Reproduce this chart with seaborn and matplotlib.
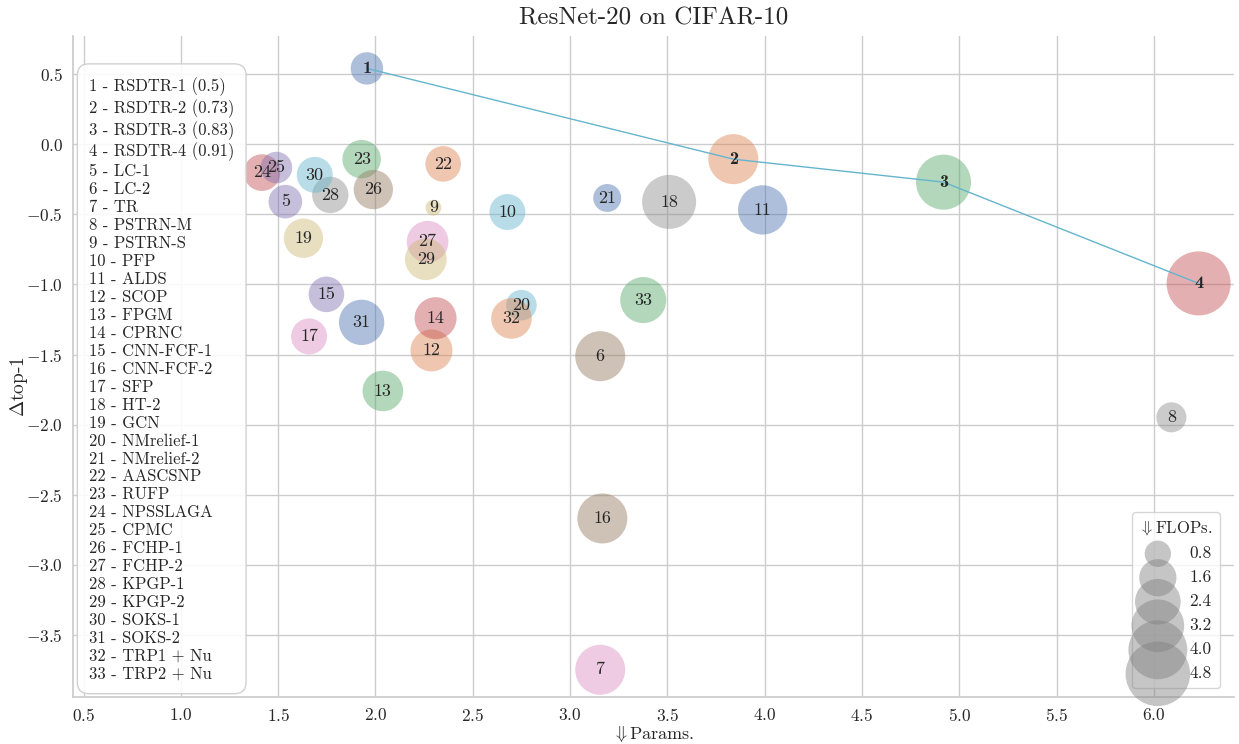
import numpy as np
import pandas as pd
import matplotlib
matplotlib.use('Agg')
import matplotlib.pyplot as plt
import seaborn as sns

# methods compared (index = label drawn in bubble)
methods = ['RSDTR-1 (0.5)', 'RSDTR-2 (0.73)', 'RSDTR-3 (0.83)', 'RSDTR-4 (0.91)',
           'LC-1', 'LC-2', 'TR', 'PSTRN-M', 'PSTRN-S', 'PFP', 'ALDS', 'SCOP', 'FPGM',
           'CPRNC', 'CNN-FCF-1', 'CNN-FCF-2', 'SFP', 'HT-2', 'GCN', 'NMrelief-1',
           'NMrelief-2', 'AASCSNP', 'RUFP', 'NPSSLAGA', 'CPMC', 'FCHP-1', 'FCHP-2',
           'KPGP-1', 'KPGP-2', 'SOKS-1', 'SOKS-2', 'TRP1 + Nu', 'TRP2 + Nu']

params = [1.956, 3.839, 4.919, 6.230, 1.537, 3.155, 3.155, 6.090, 2.298, 2.678,
          3.990, 2.288, 2.038, 2.309, 1.748, 3.166, 1.659, 3.509, 1.630, 2.750,
          3.191, 2.348, 1.929, 1.417, 1.491, 1.989, 2.268, 1.768, 2.259, 1.688,
          1.929, 2.699, 3.376]

dtop1 = [0.54, -0.107, -0.271, -0.993, -0.410, -1.512, -3.748, -1.948, -0.453, -0.484,
         -0.469, -1.471, -1.760, -1.241, -1.071, -2.669, -1.371, -0.412, -0.671, -1.148,
         -0.384, -0.141, -0.107, -0.203, -0.167, -0.324, -0.696, -0.362, -0.821, -0.219,
         -1.271, -1.243, -1.112]

flops = [1.21, 2.88, 3.49, 4.72, 1.30, 2.88, 2.88, 1.04, 0.29, 1.49,
         2.80, 2.03, 1.90, 2.03, 1.46, 2.88, 1.49, 3.36, 1.78, 1.08,
         0.90, 1.46, 1.70, 1.55, 1.15, 1.78, 2.00, 1.52, 2.00, 1.49,
         2.37, 1.90, 2.44]

legend_flops = [0.8, 1.6, 2.4, 3.2, 4.0, 4.8]

df = pd.DataFrame({'id': np.arange(1, len(methods) + 1), 'method': methods,
                   'params': params, 'dtop1': dtop1, 'flops': flops})

sns.set_theme(style='whitegrid')
plt.rcParams['font.family'] = ['cmr10', 'DejaVu Serif']
plt.rcParams['mathtext.fontset'] = 'cm'
plt.rcParams['axes.formatter.use_mathtext'] = True
plt.rcParams['axes.unicode_minus'] = True

fig = plt.figure(figsize=(12.39, 7.44), dpi=100)
ax = fig.add_axes([0.0592, 0.0632, 0.9368, 0.8884])

palette = sns.color_palette('deep', len(methods))
sns.scatterplot(data=df, x='params', y='dtop1', hue='method', palette=palette,
                size='flops', sizes=(0, 2250), size_norm=(0, 5),
                alpha=0.45, edgecolor='none', legend=False, ax=ax, zorder=2)

# our methods connected
ours = df.iloc[:4]
ax.plot(ours['params'], ours['dtop1'], color=sns.color_palette('deep')[9], lw=1, zorder=3)

for _, r in df.iterrows():
    bold = r['id'] <= 4
    ax.text(r['params'], r['dtop1'], str(r['id']), ha='center', va='center',
            fontsize=13, color='0.15', zorder=4,
            family=['cmb10', 'DejaVu Serif'] if bold else ['cmr10', 'DejaVu Serif'])

ax.set_xlim(0.4476, 6.412)
ax.set_ylim(-3.942, 0.771)
ax.set_xticks(np.arange(0.5, 6.01, 0.5))
ax.set_yticks(np.arange(-3.5, 0.51, 0.5))
ax.tick_params(labelsize=12.5, pad=1.5)
sns.despine(ax=ax)
for s in ['left', 'bottom']:
    ax.spines[s].set_color('0.8')

ax.set_title('ResNet-20 on CIFAR-10', fontsize=18, pad=8)
ax.set_xlabel(r'$\Downarrow$Params.', fontsize=13, labelpad=0)
ax.set_ylabel(r'$\Delta$top-1', fontsize=14)
ax.yaxis.set_label_coords(-0.037, 0.47)

# method index box
box_txt = '\n'.join('%d - %s' % (i + 1, m) for i, m in enumerate(methods))
ax.text(0.0135, 0.48, box_txt, transform=ax.transAxes, ha='left', va='center',
        fontsize=12, color='0.15', linespacing=1.215, zorder=5,
        bbox=dict(boxstyle='round,pad=0.7', facecolor='white', edgecolor='0.8', alpha=0.9))

# FLOPs size legend
handles = [ax.scatter([], [], s=450 * v, color='gray', alpha=0.45, edgecolor='none')
           for v in legend_flops]
leg = ax.legend(handles, ['%.1f' % v for v in legend_flops], title=r'$\Downarrow$FLOPs.',
                loc='lower right', fontsize=12.5, title_fontsize=12, frameon=True,
                borderpad=0.4, handletextpad=0.8, bbox_to_anchor=(0.995, 0.0))
leg.get_frame().set_edgecolor('0.8')

fig.savefig('out.png', dpi=100)
